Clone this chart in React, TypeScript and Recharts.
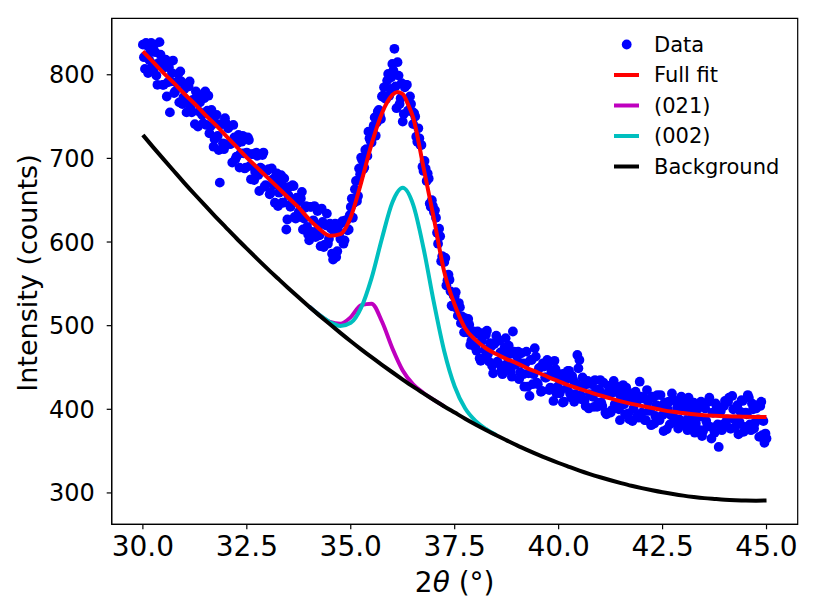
import { ComposedChart, Scatter, Line, XAxis, YAxis, ReferenceArea } from "recharts";

// measured scan, 0.025 deg steps, stored as two interleaved halves
const scanStart = 30;
const scanStep = 0.05;
const countsEven = [
  836, 807, 835, 818, 838, 806, 827, 788, 839, 810, 788, 818, 791, 755, 802, 778, 791, 801, 804, 765,
  783, 755, 786, 762, 770, 741, 773, 756, 776, 742, 780, 757, 730, 758, 714, 742, 727, 671, 741, 711,
  742, 736, 717, 695, 725, 702, 728, 706, 727, 688, 707, 722, 675, 705, 684, 703, 661, 688, 707, 668,
  686, 657, 688, 668, 679, 643, 670, 647, 676, 615, 656, 642, 668, 630, 653, 636, 652, 615, 641, 618,
  602, 642, 626, 606, 637, 608, 640, 594, 620, 598, 622, 586, 613, 582, 619, 604, 625, 602, 626, 615,
  642, 629, 663, 649, 688, 701, 687, 710, 703, 724, 719, 739, 727, 756, 752, 774, 785, 771, 801, 783,
  813, 831, 760, 799, 772, 744, 785, 788, 757, 765, 741, 750, 720, 724, 716, 685, 688, 682, 646, 650,
  636, 629, 598, 607, 583, 576, 548, 561, 541, 523, 535, 521, 527, 503, 508, 509, 492, 501, 482, 493,
  474, 493, 461, 482, 461, 489, 466, 479, 452, 478, 488, 455, 468, 442, 474, 454, 476, 445, 493, 453,
  463, 436, 467, 442, 455, 427, 416, 459, 442, 463, 430, 450, 422, 451, 438, 454, 426, 443, 458, 419,
  438, 423, 408, 443, 425, 446, 414, 435, 418, 465, 459, 412, 429, 404, 434, 418, 430, 403, 423, 408,
  435, 404, 418, 394, 428, 396, 420, 406, 427, 400, 414, 429, 394, 415, 388, 419, 401, 421, 393, 433,
  396, 414, 387, 409, 399, 415, 383, 405, 390, 417, 393, 408, 376, 409, 393, 412, 384, 402, 388, 415,
  381, 398, 375, 404, 389, 408, 383, 401, 375, 368, 403, 386, 409, 379, 396, 372, 404, 355, 398, 382,
  410, 388, 414, 377, 400, 379, 405, 385, 411, 373, 396, 417, 382, 407, 377, 401, 388, 404, 369, 360,
  365,
];
const countsOdd = [
  821, 838, 802, 828, 813, 836, 799, 814, 824, 788, 809, 774, 809, 792, 817, 780, 790, 767, 792, 773,
  788, 766, 792, 755, 769, 780, 738, 767, 752, 772, 740, 775, 738, 750, 723, 752, 710, 741, 718, 748,
  717, 738, 718, 740, 699, 718, 689, 720, 706, 689, 725, 691, 705, 674, 707, 680, 689, 704, 666, 685,
  687, 659, 675, 647, 682, 659, 680, 647, 665, 627, 666, 646, 667, 628, 648, 630, 660, 628, 643, 609,
  642, 612, 643, 612, 620, 595, 624, 597, 634, 604, 616, 579, 622, 589, 611, 623, 598, 626, 614, 632,
  652, 647, 673, 655, 681, 698, 689, 711, 732, 721, 733, 749, 743, 758, 747, 775, 772, 793, 775, 797,
  805, 786, 815, 765, 790, 753, 788, 757, 774, 756, 754, 726, 736, 716, 690, 697, 673, 676, 642, 643,
  638, 611, 616, 577, 582, 581, 554, 555, 524, 536, 540, 512, 522, 511, 492, 505, 508, 477, 492, 479,
  470, 490, 458, 491, 471, 494, 457, 475, 443, 480, 457, 482, 447, 466, 485, 449, 466, 439, 469, 454,
  469, 444, 455, 427, 469, 443, 459, 430, 473, 432, 449, 421, 455, 438, 459, 423, 446, 410, 448, 427,
  419, 442, 409, 436, 446, 419, 440, 409, 430, 449, 417, 438, 411, 430, 401, 431, 415, 435, 403, 424,
  408, 432, 396, 419, 425, 399, 434, 405, 420, 387, 423, 406, 426, 395, 413, 386, 416, 408, 390, 415,
  413, 387, 423, 398, 381, 414, 392, 417, 387, 404, 374, 408, 400, 382, 419, 390, 409, 377, 402, 385,
  409, 387, 414, 381, 400, 372, 405, 391, 409, 374, 401, 381, 414, 365, 396, 407, 382, 399, 375, 404,
  383, 409, 377, 416, 388, 402, 370, 397, 410, 379, 394, 414, 375, 400, 384, 405, 367, 409, 386, 371,
];

// full fit, read a bit finer around the main peak
const fullFitTheta = [
  30, 30.25, 30.5, 30.75, 31, 31.25, 31.5, 31.75, 32, 32.25, 32.5, 32.75, 33, 33.25, 33.5, 33.75,
  34, 34.25, 34.5, 34.75, 35, 35.25, 35.5, 35.75, 35.875, 36, 36.125, 36.25, 36.375, 36.5, 36.75, 37, 37.25, 37.5, 37.75,
  38, 38.25, 38.5, 38.75, 39, 39.25, 39.5, 39.75, 40, 40.25, 40.5, 40.75, 41, 41.25, 41.5, 41.75,
  42, 42.25, 42.5, 42.75, 43, 43.25, 43.5, 43.75, 44, 44.25, 44.5, 44.75, 45,
];
const fullFit = [
  828, 815, 802, 790, 777, 765, 752, 740, 727, 714, 701, 689, 677, 665, 653, 641,
  627, 615.5, 607.5, 609.5, 630, 671, 717, 754, 767, 776, 779.5, 777, 765, 749, 689, 628, 564, 525, 497,
  483, 473, 466, 460, 455, 449, 444, 438.5, 433.5, 428.5, 424.5, 420.5, 416.5, 413, 409.5, 406.5,
  404, 401.5, 399, 397, 395.5, 394, 393, 392.3, 391.8, 391.4, 391, 390.9, 390.8,
];

const backgroundTheta = [
  30, 30.25, 30.5, 30.75, 31, 31.25, 31.5, 31.75, 32, 32.25, 32.5, 32.75, 33, 33.25, 33.5, 33.75,
  34, 34.25, 34.5, 34.75, 35, 35.25, 35.5, 35.75, 36, 36.25, 36.5, 36.75, 37, 37.25, 37.5, 37.75,
  38, 38.25, 38.5, 38.75, 39, 39.25, 39.5, 39.75, 40, 40.25, 40.5, 40.75, 41, 41.25, 41.5, 41.75,
  42, 42.25, 42.5, 42.75, 43, 43.25, 43.5, 43.75, 44, 44.25, 44.5, 44.75, 45,
];
const background = [
  728, 713.2, 698.8, 684.6, 670.5, 656.8, 643.4, 630.2, 617.3, 604.5, 592.1, 579.9, 567.9, 556.3, 544.8, 533.6,
  522.7, 512, 501.6, 491.4, 481.4, 471.7, 462.3, 453.2, 444.3, 435.6, 427.1, 419, 411.1, 403.4, 396.1, 388.8,
  381.9, 375.3, 368.9, 362.8, 356.8, 351.2, 345.8, 340.7, 335.8, 331.2, 326.7, 322.6, 318.8, 315.2, 311.8, 308.6,
  305.8, 303.2, 300.8, 298.7, 296.8, 295.2, 293.8, 292.8, 291.9, 291.3, 290.9, 290.8, 291,
];

const peakTheta = [34, 34.25, 34.5, 34.75, 35, 35.25, 35.5, 35.75, 36, 36.25, 36.5, 36.75, 37, 37.25, 37.5, 37.75, 38, 38.25, 38.5];
const peak002 = [523, 512.7, 504.2, 499.6, 503.4, 521.5, 556.9, 604.3, 647.3, 664.8, 644.7, 592.6, 527.5, 469.1, 427.2, 401.2, 386.1, 376.5, 369.2];
const peak021 = [522.8, 512.5, 504.4, 502.3, 510.2, 524.5, 526.3, 505, 473.1, 446.5, 429.9, 419.5, 411.2, 403.4];

const xTicks = [30, 32.5, 35, 37.5, 40, 42.5, 45];
const yTicks = [300, 400, 500, 600, 700, 800];

const legendItems = [
  { label: "Data", color: "#0000ff", dot: true },
  { label: "Full fit", color: "#ff0000", dot: false },
  { label: "(021)", color: "#bf00bf", dot: false },
  { label: "(002)", color: "#00bfbf", dot: false },
  { label: "Background", color: "#000000", dot: false },
];

const font = "'DejaVu Sans', sans-serif";
const xDomain = [29.25, 45.75];
const yDomain = [262.5, 867.5];

const scanData = [
  ...countsEven.map((c, i) => ({ theta: scanStart + i * scanStep, counts: c })),
  ...countsOdd.map((c, i) => ({ theta: scanStart + scanStep / 2 + i * scanStep, counts: c })),
];
const toPoints = (xs: number[], ys: number[]) => ys.map((y, i) => ({ theta: xs[i], value: y }));

function DataDot(props: any) {
  return <circle cx={props.cx} cy={props.cy} r={4.9} fill="#0000ff" />;
}

function XTitle() {
  return (
    <text x={454.7} y={592} textAnchor="middle" fontSize={28} fontFamily={font} fill="#000">
      2<tspan fontStyle="italic">θ</tspan> (°)
    </text>
  );
}

function YTitle() {
  return (
    <text x={0} y={0} transform="translate(36.5,273) rotate(-90)" textAnchor="middle" fontSize={27} fontFamily={font} fill="#000">
      Intensity (counts)
    </text>
  );
}

const layer: React.CSSProperties = { position: "absolute", left: 0, top: 0 };

export default function App() {
  return (
    <div style={{ ...layer, width: 815, height: 607, background: "#fff" }}>
      {/* bottom layer: axes, frame and the measured points */}
      <div style={layer}>
        <ComposedChart width={815} height={607} margin={{ top: 18.3, right: 17.3, bottom: 22.7, left: 0 }}>
          <XAxis
            dataKey="theta"
            type="number"
            domain={xDomain}
            ticks={xTicks}
            interval={0}
            allowDataOverflow
            tickFormatter={(v: number) => v.toFixed(1)}
            height={60}
            tickSize={5}
            tickMargin={6.5}
            axisLine={{ stroke: "#000", strokeWidth: 1.2 }}
            tickLine={{ stroke: "#000", strokeWidth: 1.2 }}
            tick={{ fill: "#000", fontSize: 28, fontFamily: font }}
            label={<XTitle />}
          />
          <YAxis
            type="number"
            domain={yDomain}
            ticks={yTicks}
            interval={0}
            allowDataOverflow
            width={111.7}
            tickSize={5}
            tickMargin={12}
            axisLine={{ stroke: "#000", strokeWidth: 1.2 }}
            tickLine={{ stroke: "#000", strokeWidth: 1.2 }}
            tick={{ fill: "#000", fontSize: 24, fontFamily: font }}
            label={<YTitle />}
          />
          <ReferenceArea x1={xDomain[0]} x2={xDomain[1]} y1={yDomain[0]} y2={yDomain[1]} fill="none" stroke="#000" strokeWidth={1.2} ifOverflow="visible" />
          <Scatter data={scanData} dataKey="counts" fill="#0000ff" shape={DataDot} isAnimationActive={false} />
        </ComposedChart>
      </div>

      {/* top layer: fitted curves, same scales, axes hidden */}
      <div style={{ ...layer, pointerEvents: "none" }}>
        <ComposedChart width={815} height={607} margin={{ top: 18.3, right: 17.3, bottom: 82.7, left: 111.7 }}>
          <XAxis dataKey="theta" type="number" domain={xDomain} allowDataOverflow hide />
          <YAxis type="number" domain={yDomain} allowDataOverflow hide />
          <Line data={toPoints(fullFitTheta, fullFit)} dataKey="value" type="monotone" stroke="#ff0000" strokeWidth={4} dot={false} activeDot={false} isAnimationActive={false} />
          <Line data={toPoints(peakTheta, peak021)} dataKey="value" type="monotone" stroke="#bf00bf" strokeWidth={4} dot={false} activeDot={false} isAnimationActive={false} />
          <Line data={toPoints(peakTheta, peak002)} dataKey="value" type="monotone" stroke="#00bfbf" strokeWidth={4} dot={false} activeDot={false} isAnimationActive={false} />
          <Line data={toPoints(backgroundTheta, background)} dataKey="value" type="monotone" stroke="#000000" strokeWidth={4} dot={false} activeDot={false} isAnimationActive={false} />
        </ComposedChart>
      </div>

      {/* legend, top right inside the frame */}
      <svg width={815} height={607} style={{ ...layer, pointerEvents: "none" }}>
        {legendItems.map((item, i) => {
          const y = 44.5 + i * 30.5;
          return (
            <g key={item.label}>
              {item.dot ? (
                <circle cx={626.7} cy={y} r={4.9} fill={item.color} />
              ) : (
                <line x1={614} x2={639} y1={y} y2={y} stroke={item.color} strokeWidth={4} />
              )}
              <text x={654} y={y} dy="0.355em" fontSize={21} fontFamily={font} fill="#000">
                {item.label}
              </text>
            </g>
          );
        })}
      </svg>
    </div>
  );
}
